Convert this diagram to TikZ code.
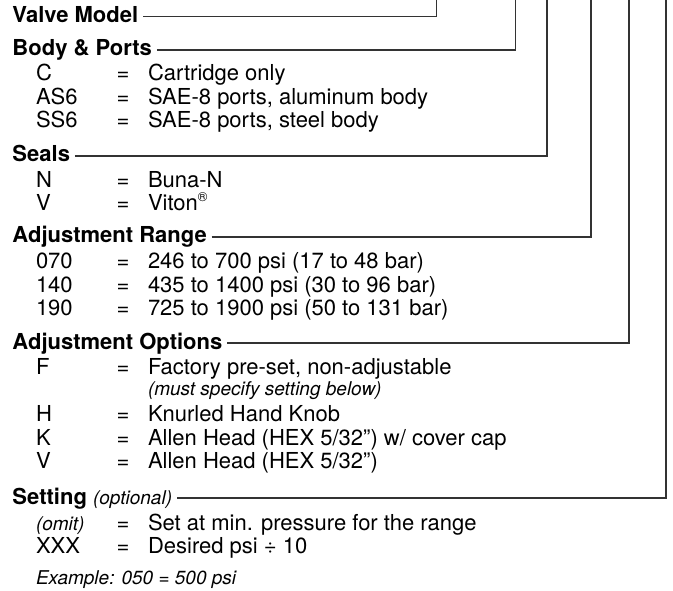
\documentclass[tikz,border=0pt]{standalone}
\usepackage{fontspec}
\setmainfont{TeX Gyre Heros}
\begin{document}
\begin{tikzpicture}[x=1pt,y=1pt,
  base/.style={anchor=base west, inner sep=0pt, outer sep=0pt, text=black},
  hdr/.style={base, font=\fontsize{22}{26}\selectfont\bfseries},
  txt/.style={base, font=\fontsize{22}{26}\selectfont},
  note/.style={base, font=\fontsize{19}{22}\selectfont\itshape},
  conn/.style={draw=black!80, line width=1.2pt}]
\useasboundingbox (0,0) rectangle (673,-591);
\def\hx{12.5}\def\cx{36}\def\ex{116.5}\def\dx{148}
% top coordinates of the connectors
\coordinate (t1) at (436.7,0);
\coordinate (t2) at (515.7,0);
\coordinate (t3) at (547,0);
\coordinate (t4) at (591,0);
\coordinate (t5) at (629,0);
\coordinate (t6) at (666,0);
% Valve model
\node[hdr] (h1) at (\hx,-22.7) {Valve Model};
% Body & ports
\node[hdr] (h2) at (\hx,-56) {Body \& Ports};
\node[txt] (c1) at (\cx,-81) {C};      \node[txt] (e1) at (\ex,-81) {=};  \node[txt] (d1) at (\dx,-81) {Cartridge only};
\node[txt] (c2) at (\cx,-105) {AS6};   \node[txt] (e2) at (\ex,-105) {=}; \node[txt] (d2) at (\dx,-105) {SAE-8 ports, aluminum body};
\node[txt] (c3) at (\cx,-128) {SS6};   \node[txt] (e3) at (\ex,-128) {=}; \node[txt] (d3) at (\dx,-128) {SAE-8 ports, steel body};
% Seals
\node[hdr] (h3) at (\hx,-162) {Seals};
\node[txt] (c4) at (\cx,-188) {N};     \node[txt] (e4) at (\ex,-188) {=}; \node[txt] (d4) at (\dx,-188) {Buna-N};
\node[txt] (c5) at (\cx,-211) {V};     \node[txt] (e5) at (\ex,-211) {=}; \node[txt] (d5) at (\dx,-211) {Viton\smash{\raisebox{0.42em}{\fontsize{13}{13}\selectfont ®}}};
% Adjustment range
\node[hdr] (h4) at (\hx,-243) {Adjustment Range};
\node[txt] (c6) at (\cx,-269) {070};   \node[txt] (e6) at (\ex,-269) {=}; \node[txt] (d6) at (\dx,-269) {246 to 700 psi (17 to 48 bar)};
\node[txt] (c7) at (\cx,-293) {140};   \node[txt] (e7) at (\ex,-293) {=}; \node[txt] (d7) at (\dx,-293) {435 to 1400 psi (30 to 96 bar)};
\node[txt] (c8) at (\cx,-316) {190};   \node[txt] (e8) at (\ex,-316) {=}; \node[txt] (d8) at (\dx,-316) {725 to 1900 psi (50 to 131 bar)};
% Adjustment options
\node[hdr] (h5) at (\hx,-349) {Adjustment Options};
\node[txt] (c9) at (\cx,-374) {F};     \node[txt] (e9) at (\ex,-374) {=}; \node[txt] (d9) at (\dx,-374) {Factory pre-set, non-adjustable};
\node[note] (n1) at (\dx,-395) {(must specify setting below)};
\node[txt] (c10) at (\cx,-421) {H};    \node[txt] (e10) at (\ex,-421) {=}; \node[txt] (d10) at (\dx,-421) {Knurled Hand Knob};
\node[txt] (c11) at (\cx,-445) {K};    \node[txt] (e11) at (\ex,-445) {=}; \node[txt] (d11) at (\dx,-445) {Allen Head (HEX 5/32”) w/ cover cap};
\node[txt] (c12) at (\cx,-468) {V};    \node[txt] (e12) at (\ex,-468) {=}; \node[txt] (d12) at (\dx,-468) {Allen Head (HEX 5/32”)};
% Setting
\node[hdr] (h6) at (\hx,-504) {Setting {\fontsize{19}{22}\selectfont\mdseries\itshape (optional)}};
\node[note] (c13) at (\cx,-530) {(omit)}; \node[txt] (e13) at (\ex,-530) {=}; \node[txt] (d13) at (\dx,-530) {Set at min. pressure for the range};
\node[txt] (c14) at (\cx,-553) {XXX};  \node[txt] (e14) at (\ex,-553) {=}; \node[txt] (d14) at (\dx,-553) {Desired psi ÷ 10};
\node[note] (n2) at (\cx,-584) {Example: 050 = 500 psi};
% connectors
\draw[conn] ([xshift=5pt,yshift=6pt]h1.base east) -| (t1);
\draw[conn] ([xshift=5pt,yshift=6pt]h2.base east) -| (t2);
\draw[conn] ([xshift=5pt,yshift=6pt]h3.base east) -| (t3);
\draw[conn] ([xshift=5pt,yshift=6pt]h4.base east) -| (t4);
\draw[conn] ([xshift=5pt,yshift=6pt]h5.base east) -| (t5);
\draw[conn] ([xshift=5pt,yshift=6pt]h6.base east) -| (t6);
\end{tikzpicture}
\end{document}
